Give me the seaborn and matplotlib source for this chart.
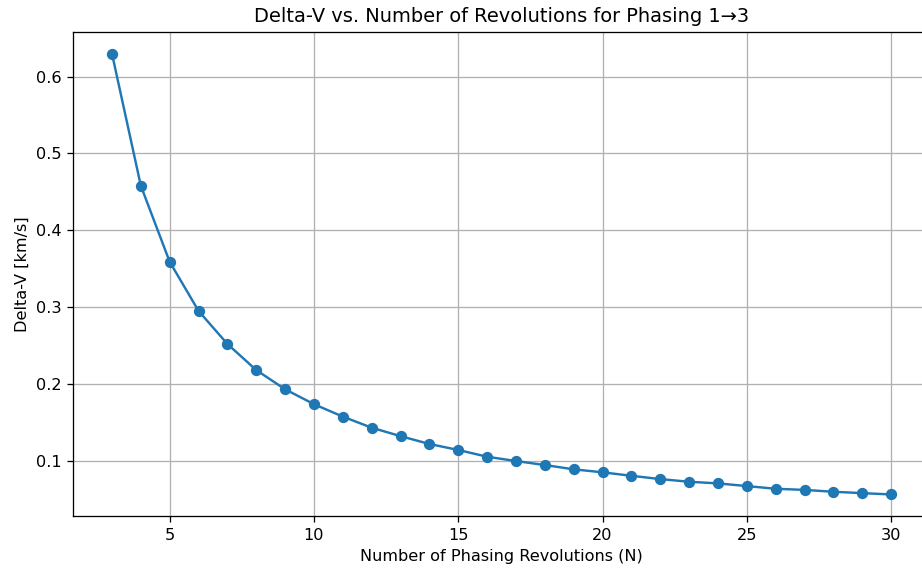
import matplotlib
matplotlib.use("Agg")
import matplotlib.pyplot as plt
import seaborn as sns
import pandas as pd

revolutions = list(range(3, 31))
delta_v = [0.630, 0.458, 0.359, 0.295, 0.252, 0.218, 0.193, 0.1736, 0.1574, 0.143,
           0.132, 0.1218, 0.114, 0.1052, 0.0996, 0.0944, 0.0888, 0.0849, 0.0804, 0.0761,
           0.0726, 0.0705, 0.067, 0.0635, 0.062, 0.0596, 0.0578, 0.0561]

df = pd.DataFrame({"N": revolutions, "dv": delta_v})

DPI = 116
fig, ax = plt.subplots(figsize=(922 / DPI, 574 / DPI), dpi=DPI)
sns.lineplot(data=df, x="N", y="dv", marker="o", markersize=6, markeredgewidth=1,
             markeredgecolor="#1f77b4", color="#1f77b4", linewidth=1.5, ax=ax)
ax.set_title("Delta-V vs. Number of Revolutions for Phasing 1→3")
ax.set_xlabel("Number of Phasing Revolutions (N)")
ax.set_ylabel("Delta-V [km/s]")
ax.grid(True)
fig.subplots_adjust(left=0.0792, right=1.0087, top=0.945, bottom=0.1002)
fig.savefig("out.png", dpi=DPI)
